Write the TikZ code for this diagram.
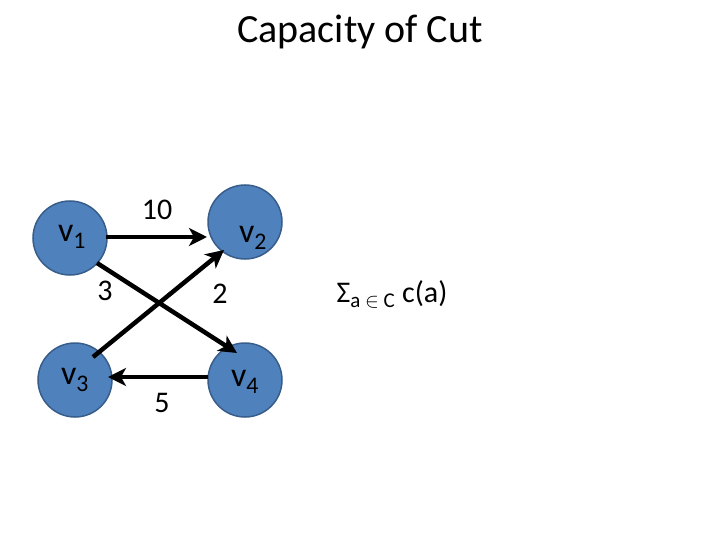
\documentclass[tikz,border=0pt]{standalone}
\usepackage{fontspec}
\setmainfont{Carlito}
\usetikzlibrary{arrows.meta}
\definecolor{nodefill}{HTML}{4F81BD}
\definecolor{nodeline}{HTML}{385D8A}
\begin{document}
\begin{tikzpicture}[x=1pt,y=-1pt,
  vert/.style={circle,fill=nodefill,draw=nodeline,line width=1.5pt,minimum size=74pt,inner sep=0pt},
  vl/.style={font=\fontsize{34}{34}\selectfont,inner sep=0pt},
  lab/.style={font=\fontsize{30}{30}\selectfont,inner sep=0pt},
  edge/.style={line width=4.5pt,-{Stealth[length=18pt,width=18pt,inset=5pt]}}]
\useasboundingbox (0,0) rectangle (720,540);
\node[font=\fontsize{40}{40}\selectfont] (title) at (360,32) {Capacity of Cut};
\node[vert] (v1) at (70,238) {};
\node[vert] (v2) at (245,222) {};
\node[vert] (v3) at (75,380) {};
\node[vert] (v4) at (245,380) {};
\node[vl] (t1) at (72,237) {v\textsubscript{1}};
\node[vl] (t2) at (253,238) {v\textsubscript{2}};
\node[vl] (t3) at (75,380) {v\textsubscript{3}};
\node[vl] (t4) at (245,382) {v\textsubscript{4}};
\coordinate (a1) at (106,237); \coordinate (b1) at (207,237);
\coordinate (a2) at (97,263); \coordinate (b2) at (237,353);
\coordinate (a3) at (93,357); \coordinate (b3) at (224,250);
\coordinate (a4) at (208,377); \coordinate (b4) at (108,377);
\draw[edge] (a1) -- (b1);
\draw[edge] (a2) -- (b2);
\draw[edge] (a3) -- (b3);
\draw[edge] (a4) -- (b4);
\node[lab] (l10) at (157,210) {10};
\node[lab] (l3) at (105,291) {3};
\node[lab] (l2) at (220,294) {2};
\node[lab] (l5) at (162,403) {5};
\node[font=\fontsize{30}{30}\selectfont] (sum) at (392,294) {Σ\textsubscript{a $\in$ C} c(a)};
\end{tikzpicture}
\end{document}
